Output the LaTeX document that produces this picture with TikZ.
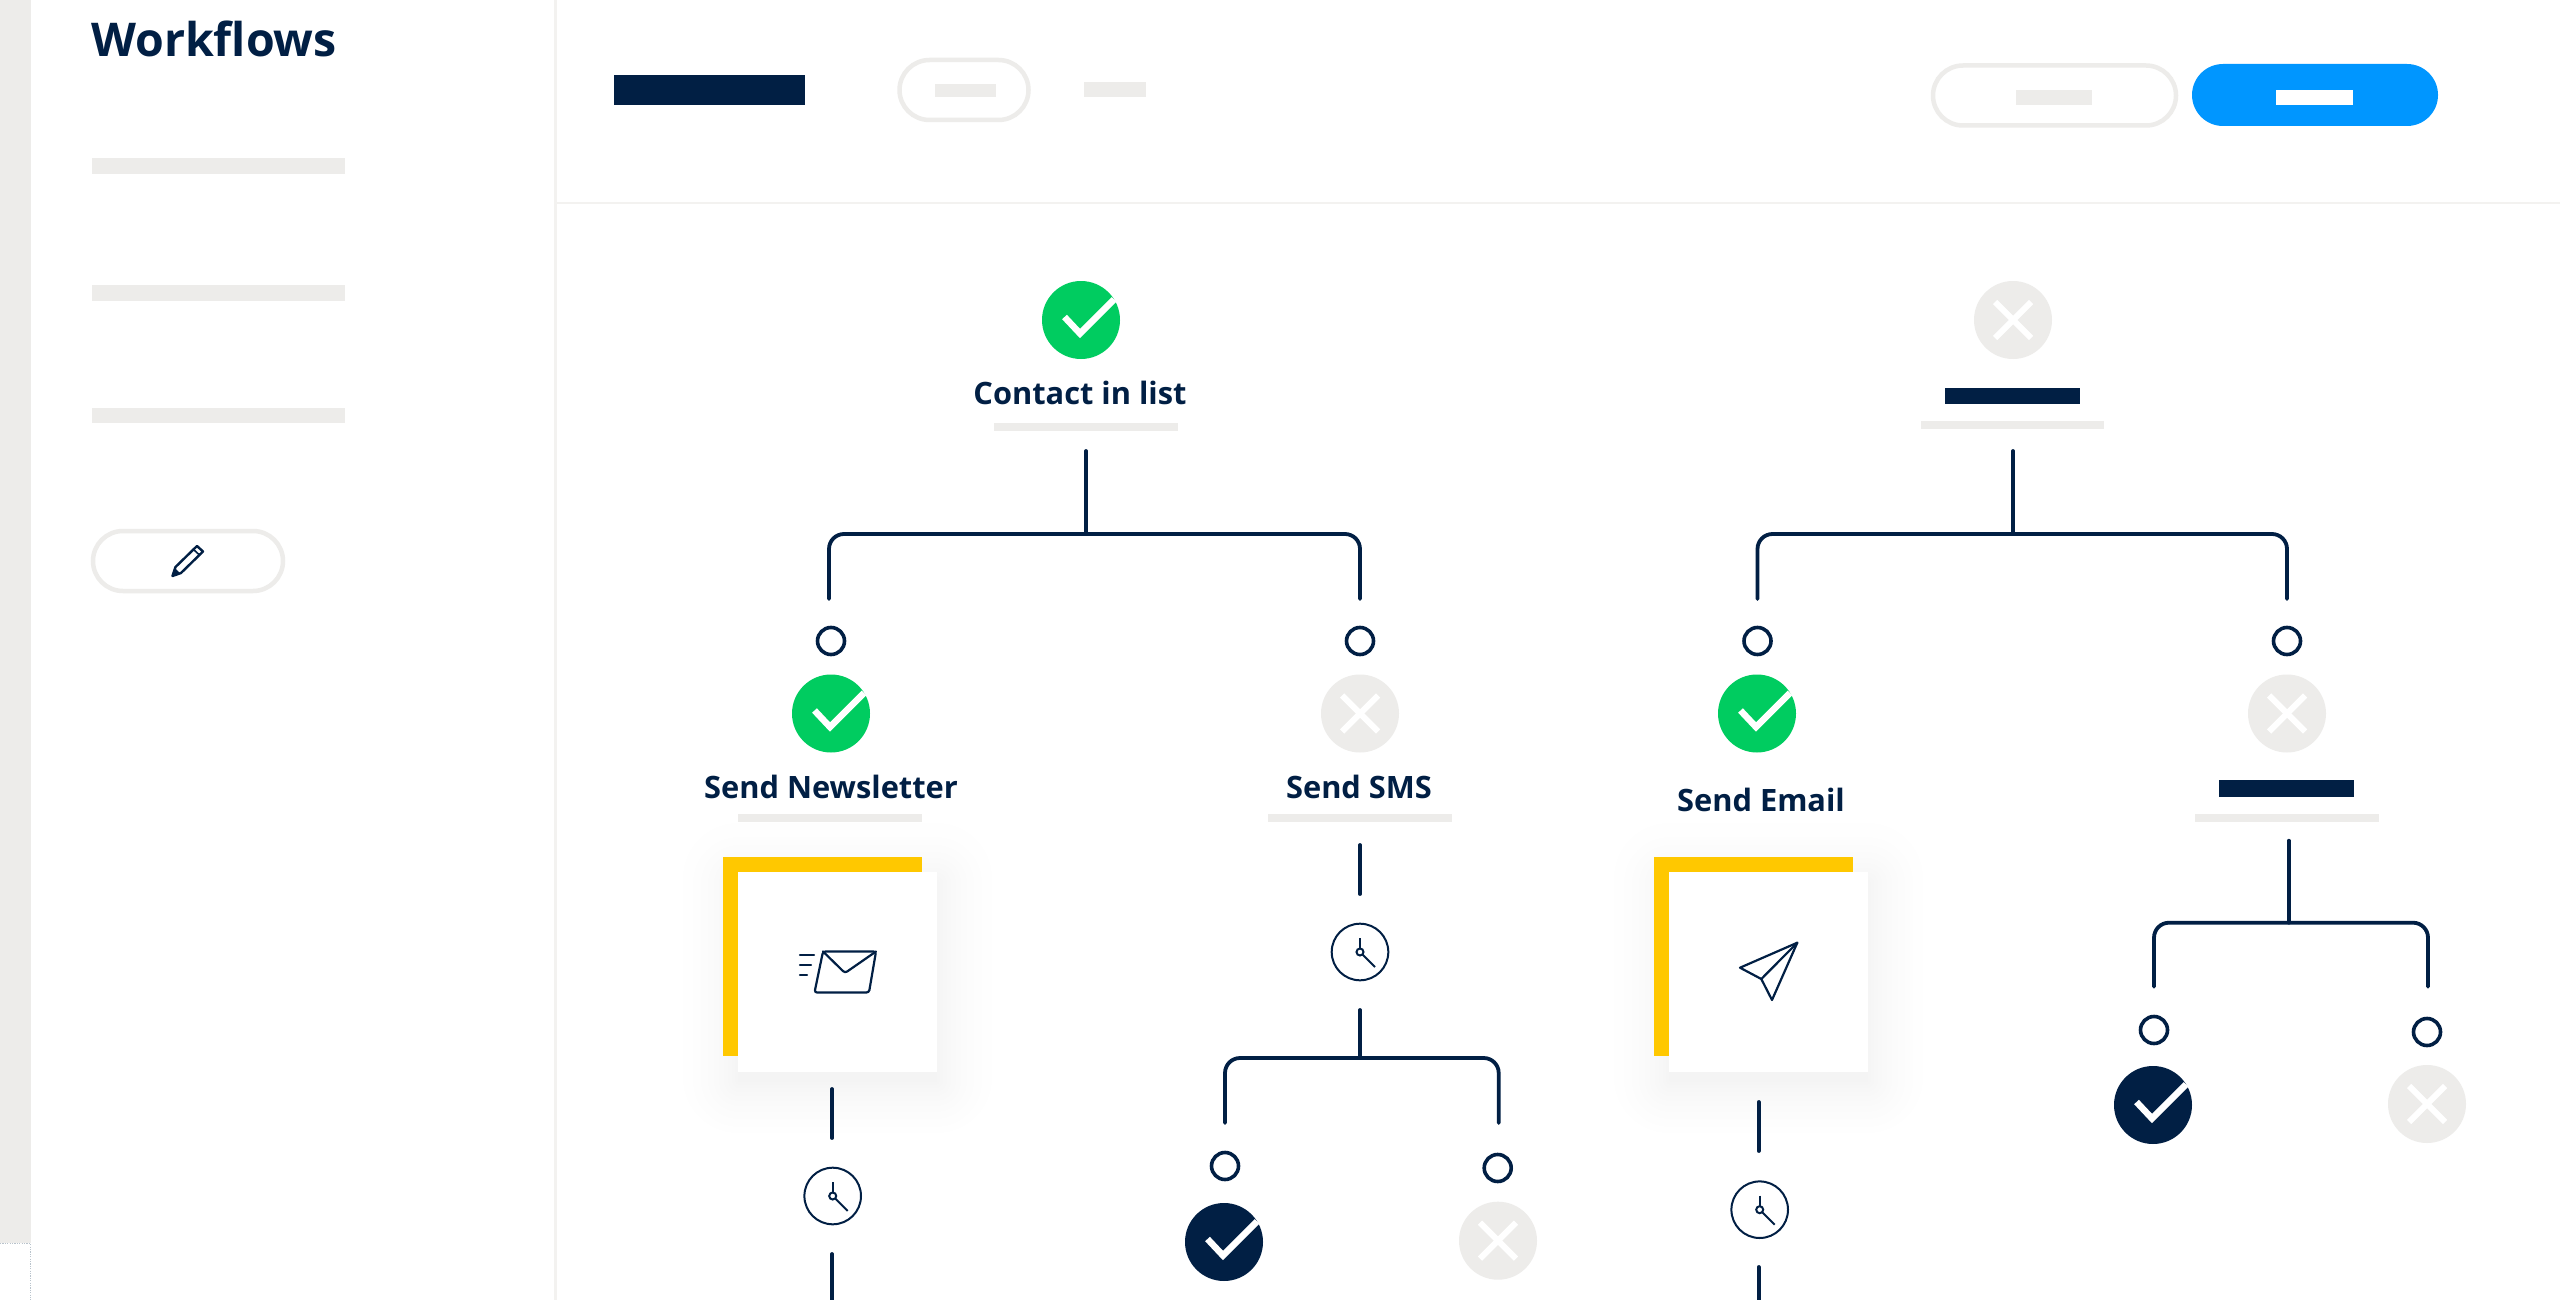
\documentclass[tikz,border=0pt]{standalone}
\usepackage{fontspec}
\setmainfont{Open Sans}
\definecolor{navy}{HTML}{011F44}
\definecolor{lgray}{HTML}{EDECEA}
\definecolor{okgreen}{HTML}{00CC60}
\definecolor{btnblue}{HTML}{0096FF}
\definecolor{cardyellow}{HTML}{FFC800}
\definecolor{dotgray}{HTML}{B9C3CC}
\tikzset{
  x=1pt,y=-1pt,
  conn/.style={draw=navy,line width=3.8pt,line cap=round},
  bracket/.style={conn,rounded corners=15pt},
  port/.style={circle,draw=navy,line width=3.6pt,fill=white,minimum size=27pt,inner sep=0pt},
  clockface/.style={circle,draw=navy,line width=2pt,fill=white,minimum size=56.6pt,inner sep=0pt},
  hand/.style={draw=navy,line width=2pt},
  status/.style={circle,minimum size=78pt,inner sep=0pt},
  pillbtn/.style={rounded corners=30pt,draw=lgray,line width=4.5pt,fill=white,inner sep=0pt},
  bluebtn/.style={rounded corners=31pt,fill=btnblue,inner sep=0pt},
  label/.style={font=\bfseries\fontsize{30.8}{37}\selectfont,text=navy,inner sep=0pt,anchor=base},
  gbar/.style={fill=lgray},
  nbar/.style={fill=navy},
  icon/.style={draw=navy,line width=2.2pt,line join=round,line cap=round},
}
\newcommand{\okmark}[4]{% name, x, y, fill
  \node[status,fill=#4] (#1) at (#2,#3) {};
  \draw[white,line width=6.5pt,miter limit=10] ([shift={(-16.5,-3)}]#1.center) -- ([shift={(-1,13.5)}]#1.center) -- ([shift={(33,-20.5)}]#1.center);
}
\newcommand{\nomark}[3]{% name, x, y
  \node[status,fill=lgray] (#1) at (#2,#3) {};
  \draw[white,line width=6pt] ([shift={(-18,-18)}]#1.center) -- ([shift={(18,18)}]#1.center);
  \draw[white,line width=6pt] ([shift={(18,-18)}]#1.center) -- ([shift={(-18,18)}]#1.center);
}
\newcommand{\clockicon}[3]{% name, x, y
  \node[clockface] (#1) at (#2,#3) {};
  \draw[hand] ([shift={(0,-14)}]#1.center) -- ([shift={(0,-3.5)}]#1.center);
  \draw[hand] ([shift={(2.6,2.6)}]#1.center) -- ([shift={(15,15)}]#1.center);
  \draw[hand] (#1.center) circle (3.5);
}
\newcommand{\cardbox}[3]{% name, x (card left), y (card top)
  \fill[black,opacity=0.004,rounded corners=55pt] (#2-55,#3+6-55) rectangle (#2+199+55,#3+6+200+55);
  \foreach \e in {45,37,30,24,19,14,10,6,3,0}{
    \fill[black,opacity=0.004,rounded corners=\e+1 pt] (#2-\e,#3+10-\e) rectangle (#2+199+\e,#3+10+200+\e);
  }
  \fill[cardyellow] (#2-15.5,#3-15.3) rectangle (#2+184,#3+184);
  \node[fill=white,inner sep=0pt,minimum width=199pt,minimum height=200pt,anchor=north west] (#1) at (#2,#3) {};
}
\begin{document}
\begin{tikzpicture}
\useasboundingbox (0,0) rectangle (2560,1300);
\fill[white] (0,0) rectangle (2560,1300);

% left strip
\fill[lgray] (0,0) rectangle (31,1243);
\draw[dotgray,line width=1pt,dash pattern=on 1.2pt off 1.2pt] (0,1243.5) -- (30.5,1243.5) -- (30.5,1300);

% dividers
\fill[lgray!70!white] (553.5,0) rectangle (556.5,1300);
\fill[lgray!70!white] (556.5,202) rectangle (2560,204.5);

% sidebar
\node[label,font=\bfseries\fontsize{46.5}{54}\selectfont,anchor=base west] (title) at (91,57) {Workflows};
\fill[gbar] (92,158) rectangle (345,174);
\fill[gbar] (92,285) rectangle (345,301);
\fill[gbar] (92,408) rectangle (345,423);
\node[pillbtn,minimum width=190pt,minimum height=60pt] (edit) at (188,561) {};
\draw[icon,line width=2.4pt] (172.5,576) -- (175.5,567) -- (197,546) -- (203,551.5) -- (181,573) -- cycle;
\fill[navy] (172.5,576) -- (175.5,568.5) -- (180,573) -- cycle;
\draw[icon,line width=1.6pt] (193.5,549.5) -- (199.5,555);

% top bar
\fill[nbar] (614,75) rectangle (805,105);
\node[pillbtn,minimum width=129pt,minimum height=60pt] (tab) at (964,90) {};
\fill[gbar] (935,84) rectangle (996,97);
\fill[gbar] (1084,82.5) rectangle (1146,97);
\node[pillbtn,minimum width=243pt,minimum height=60pt] (cancel) at (2054.5,95.5) {};
\fill[gbar] (2016,90) rectangle (2092,105);
\node[bluebtn,minimum width=246pt,minimum height=62pt] (save) at (2315,95) {};
\fill[white] (2276,90) rectangle (2353,105);

% first tree
\okmark{a0}{1081}{320}{okgreen}
\node[label] (a0t) at (1080,404) {Contact in list};
\fill[gbar] (994,423) rectangle (1178,431);
\coordinate (a0top) at (1086,451);
\coordinate (a0j) at (1086,534);
\coordinate (a0l) at (829,599);
\coordinate (a0r) at (1360,599);
\draw[conn] (a0top) -- (a0j);
\draw[bracket] (a0l) |- (a0j) -| (a0r);

\node[port] (p1) at (831,641) {};
\node[port] (p2) at (1360,641) {};
\okmark{a1}{831}{713.5}{okgreen}
\nomark{a2}{1360}{713.5}
\node[label] (a1t) at (831,798) {Send Newsletter};
\node[label] (a2t) at (1359,798) {Send SMS};
\fill[gbar] (738,814) rectangle (922,822);
\fill[gbar] (1268,814) rectangle (1452,822);

% newsletter card
\cardbox{card1}{738}{872}
\draw[icon,rounded corners=2.5pt] (823,951.5) -- (876,951.5) -- (869,992.5) -- (814.5,992.5) -- cycle;
\draw[icon,rounded corners=2.5pt] (823,951.5) -- (845,973) -- (876,951.5);
\draw[icon] (800,955) -- (814,955);
\draw[icon] (800,965) -- (811,965);
\draw[icon] (800,975) -- (807,975);
\coordinate (c1a) at (832,1089);
\coordinate (c1b) at (832,1138);
\draw[conn] (c1a) -- (c1b);
\clockicon{clk1}{832.7}{1196}
\coordinate (c1c) at (832,1254);
\coordinate (c1d) at (832,1300);
\draw[conn] (c1c) -- (c1d);

% SMS branch
\coordinate (s1a) at (1360,845);
\coordinate (s1b) at (1360,894);
\draw[conn] (s1a) -- (s1b);
\clockicon{clk2}{1360}{952}
\coordinate (s1c) at (1360,1010);
\coordinate (s1j) at (1360,1058);
\coordinate (s1l) at (1225,1123);
\coordinate (s1r) at (1498.7,1123);
\draw[conn] (s1c) -- (s1j);
\draw[bracket] (s1l) |- (s1j) -| (s1r);
\node[port] (p5) at (1225,1166) {};
\node[port] (p6) at (1497.7,1168) {};
\okmark{a5}{1224}{1242}{navy}
\nomark{a6}{1498}{1240.7}

% second tree
\nomark{b0}{2013}{320}
\fill[nbar] (1945,388) rectangle (2080,404);
\fill[gbar] (1921,421) rectangle (2104,429);
\coordinate (b0top) at (2013,451);
\coordinate (b0j) at (2013,534);
\coordinate (b0l) at (1757.5,599);
\coordinate (b0r) at (2287,599);
\draw[conn] (b0top) -- (b0j);
\draw[bracket] (b0l) |- (b0j) -| (b0r);
\node[port] (p3) at (1757.5,641) {};
\node[port] (p4) at (2287,641) {};
\okmark{b1}{1757}{713.5}{okgreen}
\nomark{b2}{2287}{713.5}
\node[label] (b1t) at (1761,811) {Send Email};
\fill[nbar] (2219,780) rectangle (2354,797);
\fill[gbar] (2195,814) rectangle (2379,822);

% email card
\cardbox{card2}{1669}{872}
\draw[icon] (1797.3,942.7) -- (1740,967.7) -- (1761.3,979) -- (1772,1000) -- cycle;
\draw[icon] (1761.3,979) -- (1797.3,942.7);
\coordinate (e1a) at (1758.7,1102);
\coordinate (e1b) at (1758.7,1151);
\draw[conn] (e1a) -- (e1b);
\clockicon{clk3}{1759.7}{1209.7}
\coordinate (e1c) at (1758.7,1267);
\coordinate (e1d) at (1758.7,1300);
\draw[conn] (e1c) -- (e1d);

% right branch
\coordinate (r1a) at (2288.7,840.7);
\coordinate (r1j) at (2288.7,922.7);
\coordinate (r1l) at (2154,986.7);
\coordinate (r1r) at (2428,986.7);
\draw[conn] (r1a) -- (r1j);
\draw[bracket] (r1l) |- (r1j) -| (r1r);
\node[port] (p7) at (2154,1030) {};
\node[port] (p8) at (2427,1032) {};
\okmark{b5}{2153}{1105}{navy}
\nomark{b6}{2427}{1104}
\end{tikzpicture}
\end{document}
